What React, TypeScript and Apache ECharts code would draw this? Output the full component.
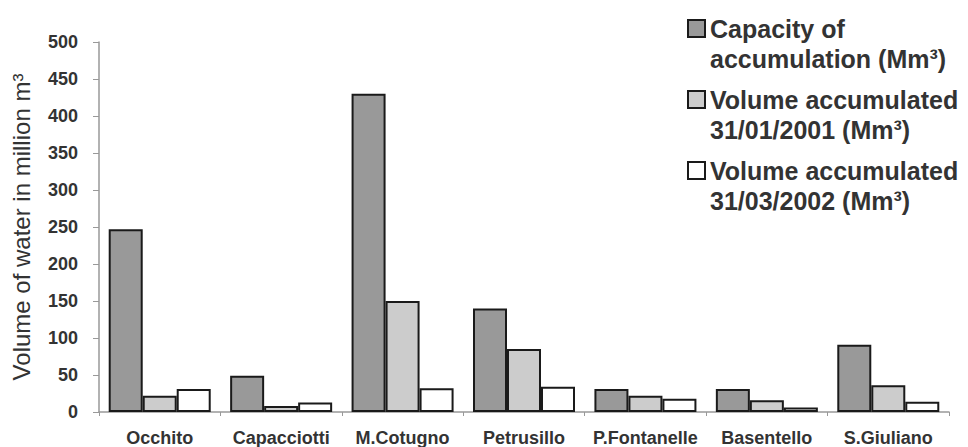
import React, { useEffect, useRef } from "react";
import * as echarts from "echarts";

const categories = ["Occhito", "Capacciotti", "M.Cotugno", "Petrusillo", "P.Fontanelle", "Basentello", "S.Giuliano"];
const capacity = [247, 49, 430, 140, 31, 31, 91];
const vol2001 = [22, 8, 150, 85, 22, 16, 36];
const vol2002 = [31, 13, 32, 34, 18, 6, 14];
const seriesNames = [
  "Capacity of accumulation (Mm³)",
  "Volume accumulated 31/01/2001 (Mm³)",
  "Volume accumulated 31/03/2002 (Mm³)",
];
const legendLabels: Record<string, string> = {
  "Capacity of accumulation (Mm³)": "Capacity of\naccumulation (Mm³)",
  "Volume accumulated 31/01/2001 (Mm³)": "Volume accumulated\n31/01/2001 (Mm³)",
  "Volume accumulated 31/03/2002 (Mm³)": "Volume accumulated\n31/03/2002 (Mm³)",
};
const yTicks = { min: 0, max: 500, interval: 50 };

const FONT = "Liberation Sans, Arial, sans-serif";

export default function App() {
  const ref = useRef<HTMLDivElement>(null);
  useEffect(() => {
    if (!ref.current) return;
    const chart = echarts.init(ref.current, undefined, { renderer: "svg" });
    const fills = ["#999999", "#cccccc", "#ffffff"];
    const datasets = [capacity, vol2001, vol2002];
    const iconTops = [20, 91, 162];
    chart.setOption({
      animation: false,
      backgroundColor: "#ffffff",
      textStyle: { fontFamily: FONT },
      grid: { left: 99, right: 19, top: 42, bottom: 34 },
      legend: seriesNames.map((name, i) => ({
        orient: "vertical",
        left: 687,
        top: iconTops[i] - 36.5,
        padding: 0,
        icon: "rect",
        itemWidth: 17,
        itemHeight: 17,
        data: [name],
        formatter: (n: string) => " \n" + (legendLabels[n] || n),
        textStyle: {
          fontFamily: FONT,
          fontSize: 25,
          fontWeight: "bold",
          color: "#333333",
          lineHeight: 30,
        },
      })),
      xAxis: {
        type: "category",
        data: categories,
        axisLine: { lineStyle: { color: "#999999", width: 1.5 } },
        axisTick: { show: true, alignWithLabel: false, length: 4, lineStyle: { color: "#999999" } },
        axisLabel: {
          fontFamily: FONT,
          fontSize: 18,
          fontWeight: "bold",
          color: "#333333",
          margin: 17,
          interval: 0,
        },
      },
      yAxis: {
        type: "value",
        min: yTicks.min,
        max: yTicks.max,
        interval: yTicks.interval,
        name: "Volume of water in million m³",
        nameLocation: "middle",
        nameGap: 66,
        nameTextStyle: { fontFamily: FONT, fontSize: 24, color: "#333333" },
        splitLine: { show: false },
        axisLine: { show: true, lineStyle: { color: "#999999", width: 1.5 } },
        axisTick: { show: true, length: 6, lineStyle: { color: "#999999" } },
        axisLabel: {
          fontFamily: FONT,
          fontSize: 18,
          fontWeight: "bold",
          color: "#333333",
          margin: 21,
        },
      },
      series: seriesNames.map((name, i) => ({
        name,
        type: "bar",
        data: datasets[i],
        barGap: "0%",
        barCategoryGap: "16%",
        itemStyle: { color: fills[i], borderColor: "#1a1a1a", borderWidth: 2 },
      })),
    });
    return () => chart.dispose();
  }, []);
  return (
    <div
      ref={ref}
      style={{ position: "fixed", left: 0, top: 0, width: 968, height: 447 }}
    />
  );
}
